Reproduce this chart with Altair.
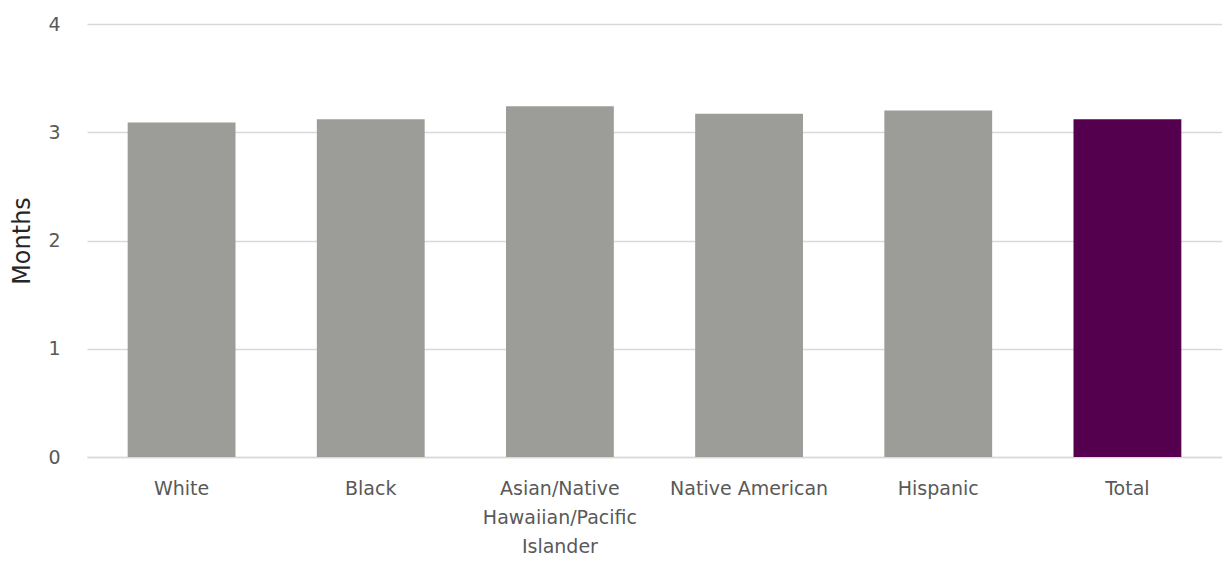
import altair as alt
import pandas as pd

categories = ["White", "Black", "Asian/Native Hawaiian/Pacific Islander",
              "Native American", "Hispanic", "Total"]
months = [3.09, 3.12, 3.24, 3.17, 3.20, 3.12]
colors = ["#9c9d98", "#9c9d98", "#9c9d98", "#9c9d98", "#9c9d98", "#55004f"]
y_ticks = [0, 1, 2, 3, 4]

df = pd.DataFrame({"group": categories, "months": months, "color": colors})

FONT = "DejaVu Sans"

label_expr = ("datum.label == 'Asian/Native Hawaiian/Pacific Islander' ? "
              "['Asian/Native', 'Hawaiian/Pacific', 'Islander'] : datum.label")

chart = alt.Chart(df).mark_bar().encode(
    x=alt.X("group:N", sort=categories,
            scale=alt.Scale(paddingInner=0.43, paddingOuter=0.215),
            axis=alt.Axis(title=None, labelAngle=0, ticks=False,
                          labelExpr=label_expr, labelPadding=22,
                          labelLineHeight=29, labelFont=FONT, labelFontSize=19,
                          labelColor="#595959", domainColor="#d9d9d9",
                          domainWidth=1.5, grid=False)),
    y=alt.Y("months:Q", scale=alt.Scale(domain=[0, 4], nice=False),
            axis=alt.Axis(title="Months", values=y_ticks, ticks=False,
                          domain=False, labelPadding=27, labelFont=FONT,
                          labelFontSize=19, labelColor="#595959",
                          titleFont=FONT, titleFontSize=24,
                          titleFontWeight="normal", titleColor="#262626",
                          titlePadding=13, gridColor="#d9d9d9",
                          gridWidth=1.5)),
    color=alt.Color("color:N", scale=None, legend=None),
).properties(
    width=1135,
    height=433,
    autosize=alt.AutoSizeParams(type="none"),
    padding={"left": 79, "top": 16, "right": 0, "bottom": 102},
).configure_view(stroke=None)

chart.save("out.html", embed_options={"renderer": "svg", "actions": False})
